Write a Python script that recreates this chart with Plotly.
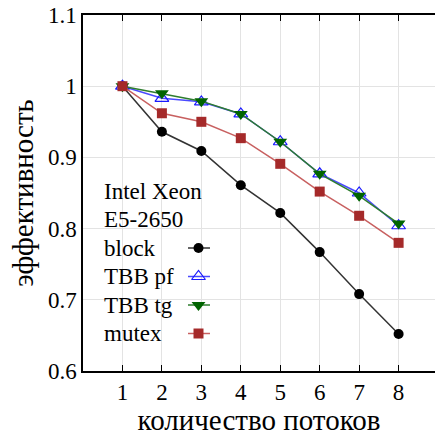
import plotly.graph_objects as go

threads = [1, 2, 3, 4, 5, 6, 7, 8]
block = [1.0, 0.936, 0.909, 0.861, 0.822, 0.767, 0.708, 0.652]
tbb_pf = [1.0, 0.983, 0.978, 0.961, 0.922, 0.877, 0.850, 0.804]
tbb_tg = [1.0, 0.990, 0.979, 0.961, 0.922, 0.877, 0.846, 0.807]
mutex = [1.0, 0.962, 0.950, 0.927, 0.891, 0.852, 0.818, 0.780]

y_ticks = [0.6, 0.7, 0.8, 0.9, 1.0, 1.1]
y_tick_labels = ["0.6", "0.7", "0.8", "0.9", "1", "1.1"]

FONT = "Liberation Serif"
W, H = 435, 436
ML, MR, MT, MB = 83, 0, 15, 65

series = [
    ("block", block, dict(symbol="circle", size=10, color="black"), "#333333"),
    ("TBB pf", tbb_pf, dict(symbol="triangle-up-open", size=12, color="#1a1aff",
                            line=dict(width=1.2)), "#4a4aff"),
    ("TBB tg", tbb_tg, dict(symbol="triangle-down", size=12, color="#006400"), "#2e7d2e"),
    ("mutex", mutex, dict(symbol="square", size=10, color="#a52a2a"), "#c86060"),
]

fig = go.Figure()
for name, vals, marker, lcolor in series:
    fig.add_trace(go.Scatter(x=threads, y=vals, mode="lines+markers", name=name,
                             line=dict(color=lcolor, width=1.5), marker=marker,
                             showlegend=False, cliponaxis=False))

# hand-built key: label on the left, line sample with marker on the right
pw, ph = W - ML - MR, H - MT - MB
def px_x(p):
    return (p - ML) / pw
def px_y(p):
    return 1 - (p - MT) / ph

header_rows = ["Intel Xeon", "E5-2650"]
row_y = [191, 219.5, 248, 276.5, 305, 333.5]
text_x = 102
for i, txt in enumerate(header_rows + [s[0] for s in series]):
    fig.add_annotation(xref="paper", yref="paper", x=px_x(text_x), y=px_y(row_y[i]),
                       text=txt, showarrow=False, xanchor="left", yanchor="middle",
                       font=dict(family=FONT, size=23, color="black"))
for i, (name, vals, marker, lcolor) in enumerate(series):
    yy = px_y(row_y[i + 2])
    fig.add_trace(go.Scatter(x=[px_x(188), px_x(198.5), px_x(210)], y=[yy, yy, yy],
                             xaxis="x2", yaxis="y2", mode="lines", showlegend=False,
                             line=dict(color=lcolor, width=1.5), hoverinfo="skip"))
    fig.add_trace(go.Scatter(x=[px_x(198.5)], y=[yy], xaxis="x2", yaxis="y2",
                             mode="markers", marker=marker, showlegend=False,
                             hoverinfo="skip", cliponaxis=False))

fig.update_layout(
    width=W, height=H,
    margin=dict(l=ML, r=MR, t=MT, b=MB),
    paper_bgcolor="white", plot_bgcolor="white",
    font=dict(family=FONT, size=23, color="black"),
    xaxis=dict(range=[0, (W - ML - MR) / 39.45], tickvals=threads,
               showgrid=True, gridcolor="#e3e3e3", gridwidth=1,
               showline=True, linecolor="black", linewidth=1.5, mirror="ticks",
               ticks="inside", ticklen=6, tickcolor="black", tickwidth=1.2,
               zeroline=False, title=dict(text="количество потоков", standoff=4,
                                          font=dict(family=FONT, size=29))),
    yaxis=dict(range=[0.6, 1.1], tickvals=y_ticks, ticktext=y_tick_labels,
               showgrid=True, gridcolor="#e3e3e3", gridwidth=1,
               showline=True, linecolor="black", linewidth=1.5,
               ticks="", zeroline=False,
               title=dict(text="эффективность", standoff=6,
                          font=dict(family=FONT, size=29))),
    xaxis2=dict(overlaying="x", range=[0, 1], visible=False),
    yaxis2=dict(overlaying="y", range=[0, 1], visible=False),
)

fig.write_html("out.html")
